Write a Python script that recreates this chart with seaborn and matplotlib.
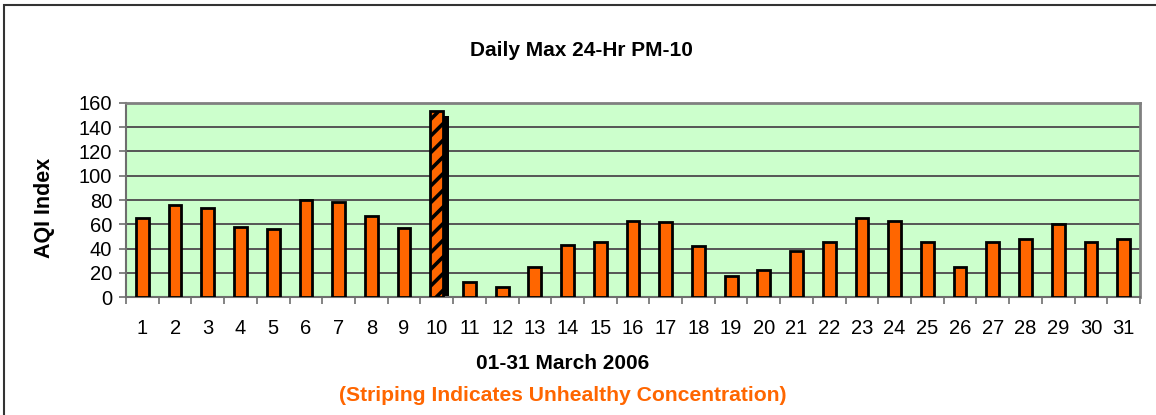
import matplotlib
matplotlib.use("Agg")
import matplotlib.pyplot as plt
from matplotlib.patches import Rectangle
from matplotlib.ticker import FixedLocator
import seaborn as sns
import pandas as pd
import numpy as np

# ---- data ----
days = [str(d) for d in range(1, 32)]
aqi = [65, 76, 73, 58, 56, 80, 78, 67, 57, 153,
       12, 8, 25, 43, 45, 63, 62, 42, 17, 22,
       38, 45, 65, 63, 45, 25, 45, 48, 60, 45, 48]
unhealthy = [d == "10" for d in days]
title = "Daily Max 24-Hr PM-10"
ylabel = "AQI Index"
xlabel = "01-31 March 2006"
note = "(Striping Indicates Unhealthy Concentration)"
yticks = [0, 20, 40, 60, 80, 100, 120, 140, 160]

ORANGE = "#FF6600"
BG = "#CCFFCC"

sns.set_theme(style="white")
plt.rcParams["font.family"] = ["Liberation Sans", "DejaVu Sans"]
plt.rcParams["hatch.linewidth"] = 2.6
plt.rcParams["text.color"] = "black"
plt.rcParams["axes.labelcolor"] = "black"
plt.rcParams["xtick.color"] = "black"
plt.rcParams["ytick.color"] = "black"

df = pd.DataFrame({"day": days, "aqi": aqi, "unhealthy": unhealthy})

W, H = 1156, 415
fig = plt.figure(figsize=(W / 100, H / 100), dpi=100)
fig.patch.set_facecolor("white")
ax = fig.add_axes([126 / W, (H - 297) / H, (1140 - 126) / W, (297 - 103) / H])
ax.set_facecolor(BG)

bw = 0.39
# shadow behind unhealthy bars
xs = np.arange(len(days))
for xi, v, u in zip(xs, aqi, unhealthy):
    if u:
        ax.bar(xi + 0.17, v - 3.5, width=bw, color="black", edgecolor="black",
               linewidth=0, zorder=2)

sns.barplot(data=df, x="day", y="aqi", color=ORANGE, saturation=1,
            width=bw, edgecolor="black", linewidth=2.0, ax=ax, zorder=3)
for p, u in zip(ax.patches[-len(days):], unhealthy):
    if u:
        p.set_hatch("//")

ax.set_ylim(0, 160)
ax.set_xlim(-0.5, len(days) - 0.5)
ax.set_yticks(yticks)
ax.yaxis.grid(True, color="#555555", linewidth=1.4, zorder=0)
ax.set_axisbelow(True)

for s in ["top", "right"]:
    ax.spines[s].set_color("#808080")
    ax.spines[s].set_linewidth(2.0)
for s in ["left", "bottom"]:
    ax.spines[s].set_color("#6e6e6e")
    ax.spines[s].set_linewidth(1.5)

ax.tick_params(axis="y", which="major", length=5, width=1.2, color="#6e6e6e",
               labelcolor="black", labelsize=14.5, pad=5, left=True)
ax.tick_params(axis="x", which="major", length=0, labelcolor="black",
               labelsize=14.5, pad=15.5)
ax.xaxis.set_minor_locator(FixedLocator(np.arange(-0.5, len(days), 1.0)))
ax.tick_params(axis="x", which="minor", length=5, width=1.2, color="#6e6e6e",
               bottom=True)

ax.set_xlabel("")
ax.set_ylabel(ylabel, fontsize=15.5, fontweight="bold", color="black")
ax.yaxis.set_label_coords(55 / W, 0.5, transform=fig.transFigure)

fig.text(581 / W, 1 - 50 / H, title, ha="center", va="center",
         fontsize=15, fontweight="bold", color="black")
fig.text(562.5 / W, 1 - 363 / H, xlabel, ha="center", va="center",
         fontsize=15, fontweight="bold", color="black")
fig.text(562.5 / W, 1 - 395 / H, note, ha="center", va="center",
         fontsize=15.2, fontweight="bold", color=ORANGE)

fig.add_artist(Rectangle((4 / W, -0.2), 1.5, 1.2 - 5 / H, transform=fig.transFigure,
                         fill=False, edgecolor="#333333", linewidth=1.5))

fig.savefig("out.png", dpi=100, facecolor="white")
